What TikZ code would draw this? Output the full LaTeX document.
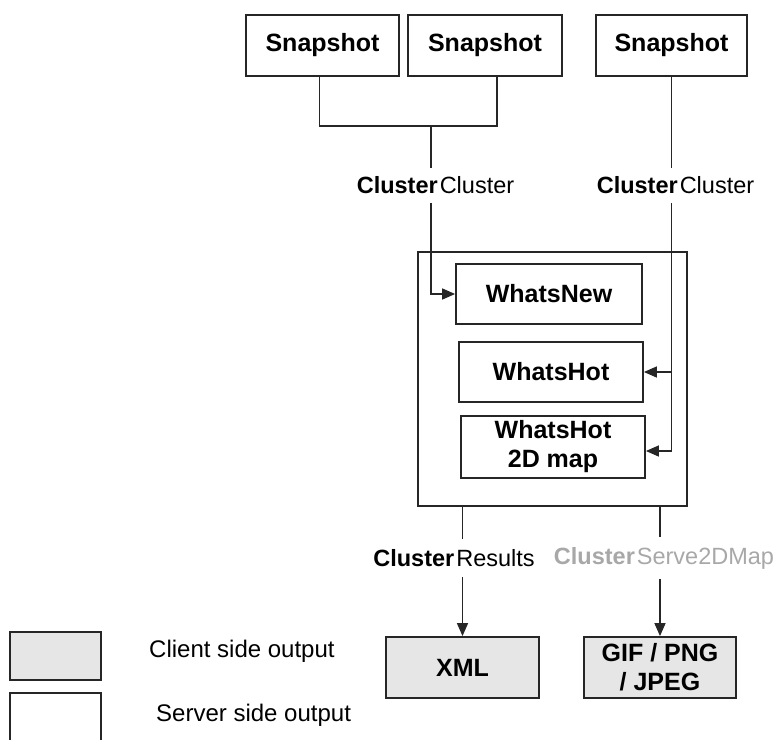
\documentclass[tikz,border=0pt]{standalone}
\usepackage{fontspec}
\setmainfont{Liberation Sans}
\usetikzlibrary{arrows.meta}
\definecolor{edgec}{HTML}{262626}
\definecolor{fillg}{HTML}{E6E6E6}
\definecolor{greytext}{HTML}{A8A8A8}
\begin{document}
\begin{tikzpicture}[x=1pt,y=-1pt,
  box/.style={draw=edgec, line width=1.8pt, inner sep=0pt, align=center,
    font=\fontsize{25}{29}\selectfont\bfseries},
  client/.style={box, fill=fillg},
  wire/.style={draw=edgec, line width=1.5pt},
  arr/.style={wire, -{Triangle[length=13pt,width=11pt]}},
  lab/.style={font=\fontsize{23.5}{26}\selectfont, inner xsep=0pt},
  legendtext/.style={font=\fontsize{24}{27}\selectfont, inner sep=0pt, anchor=west}]
\useasboundingbox (0,0) rectangle (779,739);
% top snapshots
\node[box, minimum width=153pt, minimum height=61pt] (s1) at (322.5,45.5) {Snapshot};
\node[box, minimum width=154pt, minimum height=61pt] (s2) at (485,45.5) {Snapshot};
\node[box, minimum width=151pt, minimum height=61pt] (s3) at (671.5,45.5) {Snapshot};
% outer container and inner boxes
\node[box, minimum width=269pt, minimum height=254pt] (outer) at (552.5,379) {};
\node[box, minimum width=186pt, minimum height=60pt] (wn) at (549,294) {WhatsNew};
\node[box, minimum width=184pt, minimum height=60pt] (wh) at (551,372) {WhatsHot};
\node[box, minimum width=184pt, minimum height=62pt] (wh2) at (553,447) {WhatsHot\\2D map};
% outputs
\node[client, minimum width=153pt, minimum height=61pt] (xml) at (462.5,667.5) {XML};
\node[client, minimum width=152pt, minimum height=61pt] (gif) at (660,667.5) {GIF / PNG\\/ JPEG};
% labels
\node[lab, inner ysep=8.5pt] (c1) at (435.5,185.5) {\textbf{Cluster}\hspace{2pt}Cluster};
\node[lab, inner ysep=8.5pt] (c2) at (675.5,185.5) {\textbf{Cluster}\hspace{2pt}Cluster};
\node[lab, inner ysep=10pt] (c3) at (454,558) {\textbf{Cluster}\hspace{2pt}Results};
\node[lab, inner ysep=10pt, text=greytext] (c4) at (664,558) {\textbf{Cluster}\hspace{2pt}Serve2DMap};
% legend
\node[client, minimum width=91pt, minimum height=48pt] (lc) at (55.5,656) {};
\node[box, minimum width=91pt, minimum height=52pt] (ls) at (55.5,719) {};
\node[legendtext] (lct) at (149,651) {Client side output};
\node[legendtext] (lst) at (156,715) {Server side output};
% connectors
\coordinate (j1) at (431,126);
\draw[wire] ([xshift=-3pt]s1.south) |- (j1) -| ([xshift=12pt]s2.south);
\draw[wire] (j1) -- (j1 |- c1.north);
\draw[arr] (j1 |- c1.south) |- (wn.west);
\draw[wire] (s3.south) -- (s3.south |- c2.north);
\draw[arr] (s3.south |- c2.south) |- ([yshift=-4pt]wh2.east);
\draw[arr] (s3.south |- wh.east) -- (wh.east);
\draw[wire] (xml.north |- outer.south) -- (xml.north |- c3.north);
\draw[arr] (xml.north |- c3.south) -- (xml.north);
\draw[wire] (gif.north |- outer.south) -- (gif.north |- c4.north);
\draw[arr] (gif.north |- c4.south) -- (gif.north);
\end{tikzpicture}
\end{document}
